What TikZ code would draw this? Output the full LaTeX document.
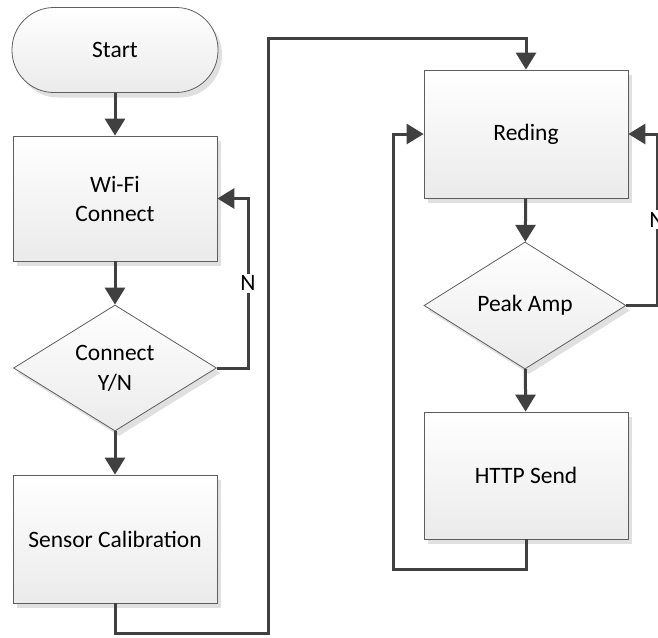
\documentclass[tikz,border=0pt]{standalone}
\usepackage{fontspec}
\setmainfont{Carlito}
\usetikzlibrary{shapes.geometric,arrows.meta,shadows}
\definecolor{conn}{HTML}{404040}
\definecolor{bord}{HTML}{5E5E5E}
\begin{document}
\begin{tikzpicture}[x=1pt,y=-1pt,
  font=\fontsize{23.5}{29}\selectfont,
  blockbase/.style={draw=bord, line width=0.8pt, top color=white, bottom color=black!8,
    drop shadow={shadow xshift=4pt, shadow yshift=-5pt, fill=black!12, opacity=1},
    inner sep=0pt, align=center},
  procbox/.style={blockbase, rectangle, minimum width=204pt, minimum height=126pt},
  termbox/.style={blockbase, rectangle, rounded corners=42pt, minimum width=206pt, minimum height=85pt},
  decbox/.style={blockbase, diamond, minimum width=203pt, minimum height=126pt},
  conline/.style={draw=conn, line width=3pt},
  arr/.style={conline, -{Triangle[width=20pt,length=17pt]}},
  nlabel/.style={fill=white, inner sep=2pt, text=black}
]
\useasboundingbox (0,0) rectangle (658,637);
\clip (0,0) rectangle (658,637);

\node[termbox] (start) at (115,50) {Start};
\node[procbox, minimum height=125pt] (wifi) at (115,198.5) {Wi-Fi\\Connect};
\node[decbox, label={[align=center,font=\fontsize{23.5}{30}\selectfont]center:Connect\\Y/N}] (d1) at (115,368) {};
\node[procbox, minimum height=128pt] (sensor) at (115,539) {Sensor Calibration};

\node[procbox, minimum height=128pt] (reding) at (526,134) {Reding};
\node[decbox, minimum width=202pt, minimum height=127pt, label={center:Peak Amp}] (peak) at (525,305.5) {};
\node[procbox, minimum height=127pt] (http) at (526,475.5) {HTTP Send};

\coordinate (c1) at (248,368);
\coordinate (c2) at (248,198.5);
\coordinate (s1) at (115,633);
\coordinate (s2) at (268,633);
\coordinate (s3) at (268,38);
\coordinate (s4) at (526,38);
\coordinate (p1) at (657,305.5);
\coordinate (p2) at (657,134);
\coordinate (h1) at (526,569);
\coordinate (h2) at (393,569);
\coordinate (h3) at (393,134);

\draw[arr] (start) -- (wifi);
\draw[arr] (wifi) -- (d1);
\draw[arr] (d1) -- (sensor);
\draw[arr] (d1.east) -- (c1) -- node[nlabel] {N} (c2) -- (wifi.east);
\draw[arr] (sensor.south) -- (s1) -- (s2) -- (s3) -- (s4) -- (reding.north);
\draw[arr] (reding) -- (peak);
\draw[arr] (peak) -- (http);
\draw[arr] (peak.east) -- (p1) -- node[nlabel] {N} (p2) -- (reding.east);
\draw[arr] (http.south) -- (h1) -- (h2) -- (h3) -- (reding.west);
\end{tikzpicture}
\end{document}
